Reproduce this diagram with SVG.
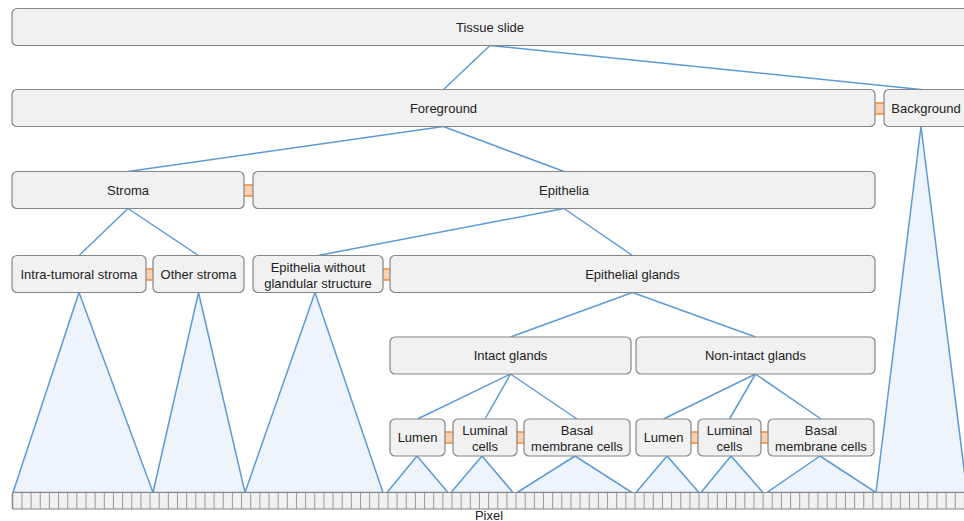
<svg xmlns="http://www.w3.org/2000/svg" width="964" height="521" viewBox="0 0 964 521">
<style>
.box{fill:#f1f1f1;stroke:#858585;stroke-width:1.2}
.t{font-family:"Liberation Sans",Arial,sans-serif;font-size:13px;fill:#222;text-anchor:middle}
.c{stroke:#5b9bd5;stroke-width:1.5;fill:none}
.tri{fill:#eef4fb;stroke:#5b9bd5;stroke-width:1.5;stroke-linejoin:miter}
.lk{fill:#fbd0ae}
.lkl{stroke:#ee8a3c;stroke-width:1.5}
</style>
<rect width="964" height="521" fill="#ffffff"/>
<g id="pixel-regions">
<polygon class="tri" points="79,292.5 13,492.5 153,492.5"/>
<polygon class="tri" points="198.5,292.5 153,492.5 245,492.5"/>
<polygon class="tri" points="315,292.5 245,492.5 383,492.5"/>
<polygon class="tri" points="417,456 387,492.5 448,492.5"/>
<polygon class="tri" points="482,456 451,492.5 513,492.5"/>
<polygon class="tri" points="575,456 517,492.5 632,492.5"/>
<polygon class="tri" points="667,456 636,492.5 699,492.5"/>
<polygon class="tri" points="731,456 701,492.5 763,492.5"/>
<polygon class="tri" points="820,456 767,492.5 876,492.5"/>
<polygon class="tri" points="921,126.5 876,492.5 967,492.5"/>
</g>
<g id="connectors">
<line class="c" x1="490" y1="45.5" x2="443.5" y2="89.5"/>
<line class="c" x1="490" y1="45.5" x2="921" y2="89.5"/>
<line class="c" x1="443.5" y1="126.5" x2="128" y2="171.5"/>
<line class="c" x1="443.5" y1="126.5" x2="564" y2="171.5"/>
<line class="c" x1="128" y1="208.5" x2="79" y2="255.5"/>
<line class="c" x1="128" y1="208.5" x2="198.5" y2="255.5"/>
<line class="c" x1="564" y1="208.5" x2="318" y2="255.5"/>
<line class="c" x1="564" y1="208.5" x2="632.5" y2="255.5"/>
<line class="c" x1="632.5" y1="292.5" x2="510.5" y2="337"/>
<line class="c" x1="632.5" y1="292.5" x2="755.5" y2="337"/>
<line class="c" x1="510.5" y1="374" x2="417.5" y2="419"/>
<line class="c" x1="510.5" y1="374" x2="485" y2="419"/>
<line class="c" x1="510.5" y1="374" x2="577" y2="419"/>
<line class="c" x1="755.5" y1="374" x2="663.5" y2="419"/>
<line class="c" x1="755.5" y1="374" x2="729.5" y2="419"/>
<line class="c" x1="755.5" y1="374" x2="821" y2="419"/>
<g id="sibling-links">
<rect class="lk" x="875" y="103" width="9" height="11"/><line class="lkl" x1="875" y1="103" x2="884" y2="103"/><line class="lkl" x1="875" y1="114" x2="884" y2="114"/>
<rect class="lk" x="244" y="185" width="9" height="11"/><line class="lkl" x1="244" y1="185" x2="253" y2="185"/><line class="lkl" x1="244" y1="196" x2="253" y2="196"/>
<rect class="lk" x="146" y="269" width="7" height="11"/><line class="lkl" x1="146" y1="269" x2="153" y2="269"/><line class="lkl" x1="146" y1="280" x2="153" y2="280"/>
<rect class="lk" x="383" y="269" width="7" height="11"/><line class="lkl" x1="383" y1="269" x2="390" y2="269"/><line class="lkl" x1="383" y1="280" x2="390" y2="280"/>
<rect class="lk" x="445" y="432" width="8" height="11"/><line class="lkl" x1="445" y1="432" x2="453" y2="432"/><line class="lkl" x1="445" y1="443" x2="453" y2="443"/>
<rect class="lk" x="517" y="432" width="7" height="11"/><line class="lkl" x1="517" y1="432" x2="524" y2="432"/><line class="lkl" x1="517" y1="443" x2="524" y2="443"/>
<rect class="lk" x="691" y="432" width="7" height="11"/><line class="lkl" x1="691" y1="432" x2="698" y2="432"/><line class="lkl" x1="691" y1="443" x2="698" y2="443"/>
<rect class="lk" x="761" y="432" width="7" height="11"/><line class="lkl" x1="761" y1="432" x2="768" y2="432"/><line class="lkl" x1="761" y1="443" x2="768" y2="443"/>
</g>
</g>
<g id="tissue-slide"><rect class="box" x="12" y="8.5" width="957" height="37" rx="5"/><text class="t" x="490" y="31.5">Tissue slide</text></g>
<g id="foreground"><rect class="box" x="12" y="89.5" width="863" height="37" rx="5"/><text class="t" x="443.5" y="112.5">Foreground</text></g>
<g id="background"><rect class="box" x="884" y="89.5" width="86" height="37" rx="5"/><text class="t" x="926" y="112.5">Background</text></g>
<g id="stroma"><rect class="box" x="12" y="171.5" width="232" height="37" rx="5"/><text class="t" x="128" y="194.5">Stroma</text></g>
<g id="epithelia"><rect class="box" x="253" y="171.5" width="622" height="37" rx="5"/><text class="t" x="564" y="194.5">Epithelia</text></g>
<g id="intra-tumoral-stroma"><rect class="box" x="12" y="255.5" width="134" height="37" rx="5"/><text class="t" x="79" y="278.5">Intra-tumoral stroma</text></g>
<g id="other-stroma"><rect class="box" x="153" y="255.5" width="91" height="37" rx="5"/><text class="t" x="198.5" y="278.5">Other stroma</text></g>
<g id="epithelia-without"><rect class="box" x="253" y="255.5" width="130" height="37" rx="5"/><text class="t" x="318" y="271.5">Epithelia without</text><text class="t" x="318" y="287.5">glandular structure</text></g>
<g id="epithelial-glands"><rect class="box" x="390" y="255.5" width="485" height="37" rx="5"/><text class="t" x="632.5" y="278.5">Epithelial glands</text></g>
<g id="intact-glands"><rect class="box" x="390" y="337" width="241" height="37" rx="5"/><text class="t" x="510.5" y="360">Intact glands</text></g>
<g id="non-intact-glands"><rect class="box" x="636" y="337" width="239" height="37" rx="5"/><text class="t" x="755.5" y="360">Non-intact glands</text></g>
<g id="lumen-1"><rect class="box" x="390" y="419" width="55" height="37" rx="5"/><text class="t" x="417.5" y="442">Lumen</text></g>
<g id="luminal-cells-1"><rect class="box" x="453" y="419" width="64" height="37" rx="5"/><text class="t" x="485" y="434.5">Luminal</text><text class="t" x="485" y="450.5">cells</text></g>
<g id="basal-membrane-cells-1"><rect class="box" x="524" y="419" width="106" height="37" rx="5"/><text class="t" x="577" y="434.5">Basal</text><text class="t" x="577" y="450.5">membrane cells</text></g>
<g id="lumen-2"><rect class="box" x="636" y="419" width="55" height="37" rx="5"/><text class="t" x="663.5" y="442">Lumen</text></g>
<g id="luminal-cells-2"><rect class="box" x="698" y="419" width="63" height="37" rx="5"/><text class="t" x="729.5" y="434.5">Luminal</text><text class="t" x="729.5" y="450.5">cells</text></g>
<g id="basal-membrane-cells-2"><rect class="box" x="768" y="419" width="106" height="37" rx="5"/><text class="t" x="821" y="434.5">Basal</text><text class="t" x="821" y="450.5">membrane cells</text></g>
<g id="pixel-row">
<rect x="12.3" y="492.5" width="958" height="16.5" rx="2" fill="#f1f1f1"/>
<line x1="12.3" y1="500.75" x2="970" y2="500.75" stroke="#9a9a9a" stroke-width="16.5" stroke-dasharray="1 8.15"/>
<rect x="12.3" y="492.5" width="958" height="16.5" rx="2" fill="none" stroke="#858585" stroke-width="1.2"/>
<text class="t" x="489" y="519.5">Pixel</text>
</g>
</svg>
